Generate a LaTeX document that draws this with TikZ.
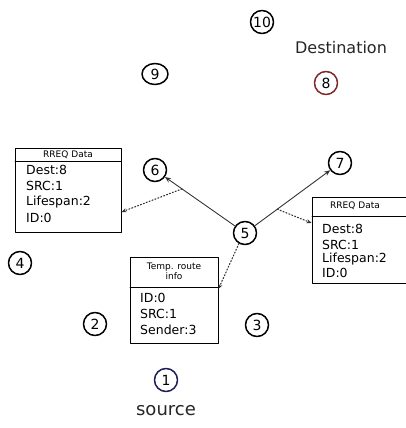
\documentclass[tikz,border=0pt]{standalone}
\usepackage{fontspec}
\setmainfont{DejaVu Sans}
\usetikzlibrary{arrows.meta,calc,shapes.geometric}

\definecolor{destred}{RGB}{130,40,40}
\definecolor{srcblue}{RGB}{30,30,90}

\tikzset{
  station/.style={circle, draw, line width=1.5pt, minimum size=23pt, inner sep=0pt,
    font=\fontsize{14}{14}\selectfont},
  hop/.style={-{Stealth[length=6pt,width=5pt]}, line width=0.9pt, draw=black!80},
  copyto/.style={-{Stealth[length=5pt,width=4pt]}, dotted, line width=1.1pt, draw=black!80},
  table/.style={draw, line width=0.9pt, inner sep=0pt},
  head/.style={font=\fontsize{9}{10}\selectfont, align=center},
  field/.style={font=\fontsize{12.5}{16}\selectfont, anchor=west, inner sep=0pt},
  caption/.style={font=\fontsize{16}{16}\selectfont, text=black!85}
}

\begin{document}
\begin{tikzpicture}[x=1pt, y=-1pt, line cap=round, line join=round]
  \useasboundingbox (0,0) rectangle (406,428);

  % stations
  \node[station] (n10) at (262,22) {10};
  \node[station, draw=destred] (n8) at (326,83) {8};
  \node[station, ellipse, minimum width=26pt, minimum height=21pt] (n9) at (155,74) {9};
  \node[station] (n6) at (155,170) {6};
  \node[station] (n7) at (340,163) {7};
  \node[station] (n5) at (245,233) {5};
  \node[station] (n4) at (20,263) {4};
  \node[station] (n2) at (95,324) {2};
  \node[station] (n3) at (257,325) {3};
  \node[station, draw=srcblue] (n1) at (166,380) {1};

  \node[caption] (dst) at (341,48) {Destination};
  \node[caption, font=\fontsize{18}{18}\selectfont] (src) at (166,411) {source};

  % RREQ table, left
  \node[table, minimum width=106pt, minimum height=84pt] (lbox) at (68,190) {};
  \draw[line width=0.9pt] (15,161) -- (121,161);
  \node[head] (lhead) at (68,155) {RREQ Data};
  \node[field] (ldest) at (26,170) {Dest:8};
  \node[field] (lsrc)  at (26,186) {SRC:1};
  \node[field] (llife) at (26,202) {Lifespan:2};
  \node[field] (lid)   at (26,218) {ID:0};

  % RREQ table, right
  \node[table, minimum width=94pt, minimum height=86pt] (rbox) at (359,240) {};
  \draw[line width=0.9pt] (312,216) -- (406,216);
  \node[head] (rhead) at (355,206) {RREQ Data};
  \node[field] (rdest) at (322,229) {Dest:8};
  \node[field] (rsrc)  at (322,245) {SRC:1};
  \node[field] (rlife) at (322,259) {Lifespan:2};
  \node[field] (rid)   at (322,273) {ID:0};

  % route table at 5
  \node[table, minimum width=88pt, minimum height=86pt] (tbox) at (174,300) {};
  \draw[line width=0.9pt] (130,287) -- (218,287);
  \node[head] (thead) at (174,271) {Temp. route\\info};
  \node[field] (tid)   at (140,298) {ID:0};
  \node[field] (tsrc)  at (140,314) {SRC:1};
  \node[field] (tsend) at (140,330) {Sender:3};

  % forwarding
  \draw[hop] (n5) -- (n6);
  \draw[hop] (n5) -- (n7);

  \coordinate (m6) at ($(n5)!0.7!(n6)$);
  \coordinate (m7) at ($(n5)!0.34!(n7)$);
  \draw[copyto] (m6) -- (lbox.east |- 0,212);
  \draw[copyto] (m7) -- (rbox.west |- 0,223);
  \draw[copyto] (n5.240) -- (tbox.east |- 0,289);
\end{tikzpicture}
\end{document}
